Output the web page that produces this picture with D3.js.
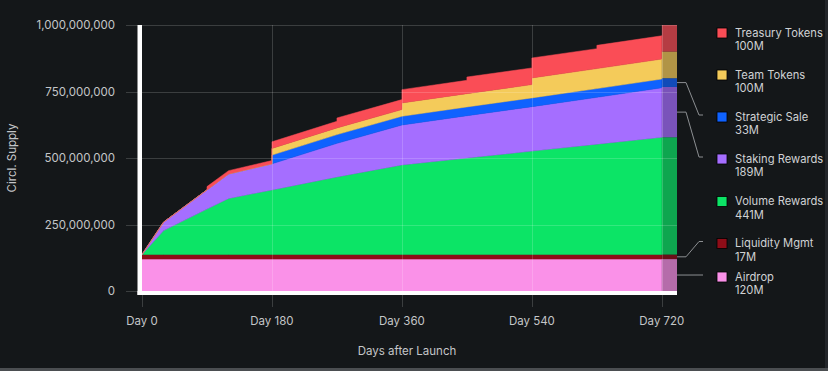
<!DOCTYPE html>
<html>
<head>
<meta charset="utf-8">
<script src="https://cdn.jsdelivr.net/npm/d3@7/dist/d3.min.js"></script>
<style>
  body { margin: 0; background: #141719; }
  svg { display: block; font-family: Inter, "Noto Sans", sans-serif; }
  .tick-label { fill: #c4c6c8; font-size: 11.5px; }
  .axis-title { fill: #c4c6c8; font-size: 11.5px; }
  .legend-text { fill: #d0d2d4; font-size: 11.2px; }
</style>
</head>
<body>
<script>
// days after launch (a repeated day = an unlock step), values in millions of tokens
var days      = [0, 30, 90, 90, 120, 180, 180, 270, 270, 360, 360, 450, 450, 540, 540, 630, 630, 720];
var airdrop   = [120, 120, 120, 120, 120, 120, 120, 120, 120, 120, 120, 120, 120, 120, 120, 120, 120, 120];
var liquidity = [17, 17, 17, 17, 17, 17, 17, 17, 17, 17, 17, 17, 17, 17, 17, 17, 17, 17];
var volume    = [0, 90, 171, 171, 211, 243, 243, 292, 292, 337, 337, 363, 363, 389, 389, 415, 415, 441];
var staking   = [0, 32, 72, 72, 92, 98, 98, 126, 126, 150, 150, 159, 159, 167, 167, 176, 176, 186];
var strategic = [0, 0, 0, 0, 0, 0, 33, 33, 33, 33, 33, 33, 33, 33, 33, 33, 33, 33];
var team      = [0, 0, 0, 0, 0, 0, 25, 25, 25, 25, 50, 50, 50, 50, 75, 75, 75, 75];
var treasury  = [0, 0, 0, 12.5, 12.5, 12.5, 25, 25, 37.5, 37.5, 50, 50, 62.5, 62.5, 75, 75, 87.5, 87.5];

// stack order, bottom to top
var keys   = ["airdrop", "liquidity", "volume", "staking", "strategic", "team", "treasury"];
var names  = ["Airdrop", "Liquidity Mgmt", "Volume Rewards", "Staking Rewards", "Strategic Sale", "Team Tokens", "Treasury Tokens"];
var totals = [120, 17, 441, 189, 33, 100, 100];
var colors = ["#fa91e8", "#8e0d18", "#0ce466", "#a56eff", "#0f62fe", "#f4cb5a", "#fa4d56"];

var yTicks = [0, 250e6, 500e6, 750e6, 1e9];
var xTicks = [0, 180, 360, 540, 720];

// legend layout (top to bottom = reverse of stack)
var legendY = [277, 243.5, 201.5, 159, 117, 75, 33];
var withLeader = ["airdrop", "liquidity", "staking", "strategic"];

var series = {airdrop: airdrop, liquidity: liquidity, volume: volume, staking: staking,
              strategic: strategic, team: team, treasury: treasury};
var rows = days.map(function(d, i) {
  var r = {day: d};
  keys.forEach(function(k) { r[k] = series[k][i] * 1e6; });
  return r;
});

var width = 828, height = 371;
var x = d3.scaleLinear().domain([0, 741]).range([142, 677]);
var y = d3.scaleLinear().domain([0, 1e9]).range([291, 25]);
var color = d3.scaleOrdinal().domain(keys).range(colors);

var svg = d3.select("body").append("svg")
  .attr("width", width).attr("height", height);

svg.append("rect").attr("width", width).attr("height", height).attr("fill", "#141719");

var stacked = d3.stack().keys(keys)(rows);
var area = d3.area()
  .x(function(d) { return x(d.data.day); })
  .y0(function(d) { return y(d[0]); })
  .y1(function(d) { return y(d[1]); });

svg.append("g").selectAll("path")
  .data(stacked)
  .enter().append("path")
  .attr("d", area)
  .attr("fill", function(d) { return color(d.key); })
  .attr("stroke", function(d) { return color(d.key); })
  .attr("stroke-width", 0.5);

// final allocation band after day 720
var cum = d3.cumsum(totals);
var band = keys.map(function(k, i) {
  return {key: k, lo: (cum[i] - totals[i]) * 1e6, hi: cum[i] * 1e6};
});
svg.append("g").selectAll("rect")
  .data(band)
  .enter().append("rect")
  .attr("x", x(720))
  .attr("width", x(741) - x(720))
  .attr("y", function(d) { return y(d.hi); })
  .attr("height", function(d) { return y(d.lo) - y(d.hi); })
  .attr("fill", function(d) { return color(d.key); })
  .attr("fill-opacity", 0.7);

// grid
var grid = svg.append("g").attr("stroke", "#ffffff").attr("stroke-opacity", 0.17).attr("stroke-width", 1);
yTicks.forEach(function(t) {
  grid.append("line")
    .attr("x1", 126).attr("x2", t === 0 ? 138 : x(741))
    .attr("y1", Math.round(y(t)) + 0.5).attr("y2", Math.round(y(t)) + 0.5);
});
xTicks.forEach(function(t) {
  grid.append("line")
    .attr("x1", Math.round(x(t)) + 0.5).attr("x2", Math.round(x(t)) + 0.5)
    .attr("y1", t === 0 ? 295 : y(1e9)).attr("y2", 307);
});

// white frame left and bottom
svg.append("rect").attr("x", 137.5).attr("y", y(1e9)).attr("width", 4.5).attr("height", 295 - y(1e9)).attr("fill", "#ffffff");
svg.append("rect").attr("x", 137.5).attr("y", 291).attr("width", x(741) - 137.5).attr("height", 4).attr("fill", "#ffffff");

// tick labels
svg.append("g").selectAll("text")
  .data(yTicks)
  .enter().append("text")
  .attr("class", "tick-label")
  .attr("x", 115)
  .attr("y", function(d) { return y(d); })
  .attr("dy", "0.35em")
  .attr("text-anchor", "end")
  .text(function(d) { return d3.format(",")(d); });

svg.append("g").selectAll("text")
  .data(xTicks)
  .enter().append("text")
  .attr("class", "tick-label")
  .attr("x", function(d) { return x(d); })
  .attr("y", 321)
  .attr("dy", "0.35em")
  .attr("text-anchor", "middle")
  .text(function(d) { return "Day " + d; });

svg.append("text").attr("class", "axis-title")
  .attr("transform", "translate(12,158) rotate(-90)")
  .attr("text-anchor", "middle").attr("dy", "0.35em")
  .text("Circl. Supply");
svg.append("text").attr("class", "axis-title")
  .attr("x", 407).attr("y", 351).attr("dy", "0.35em")
  .attr("text-anchor", "middle")
  .text("Days after Launch");

// legend
var legend = svg.append("g").selectAll("g")
  .data(band)
  .enter().append("g")
  .attr("transform", function(d, i) { return "translate(717," + legendY[i] + ")"; });
legend.append("rect")
  .attr("x", 0).attr("y", -5).attr("width", 10).attr("height", 10)
  .attr("fill", function(d) { return color(d.key); })
  .attr("stroke", "#000").attr("stroke-width", 0.8);
legend.append("text").attr("class", "legend-text")
  .attr("x", 18).attr("dy", "0.35em")
  .text(function(d, i) { return names[i]; });
legend.append("text").attr("class", "legend-text")
  .attr("x", 18).attr("y", 13.5).attr("dy", "0.35em")
  .text(function(d, i) { return totals[i] + "M"; });

// leader lines from band to legend
svg.append("g").selectAll("path")
  .data(band.filter(function(d) { return withLeader.indexOf(d.key) >= 0; }))
  .enter().append("path")
  .attr("fill", "none").attr("stroke", "#8c8f92").attr("stroke-width", 1)
  .attr("d", function(d) {
    var ys = y((d.lo + d.hi) / 2);
    var yl = legendY[keys.indexOf(d.key)] - 2;
    return "M" + x(741) + "," + ys + "H686L699," + yl + "H703";
  });

// screenshot edge
svg.append("rect").attr("x", 0).attr("y", 368).attr("width", width).attr("height", 3).attr("fill", "#4b4e51");
svg.append("rect").attr("x", 825).attr("y", 0).attr("width", 3).attr("height", 368).attr("fill", "#23262a");
</script>
</body>
</html>
